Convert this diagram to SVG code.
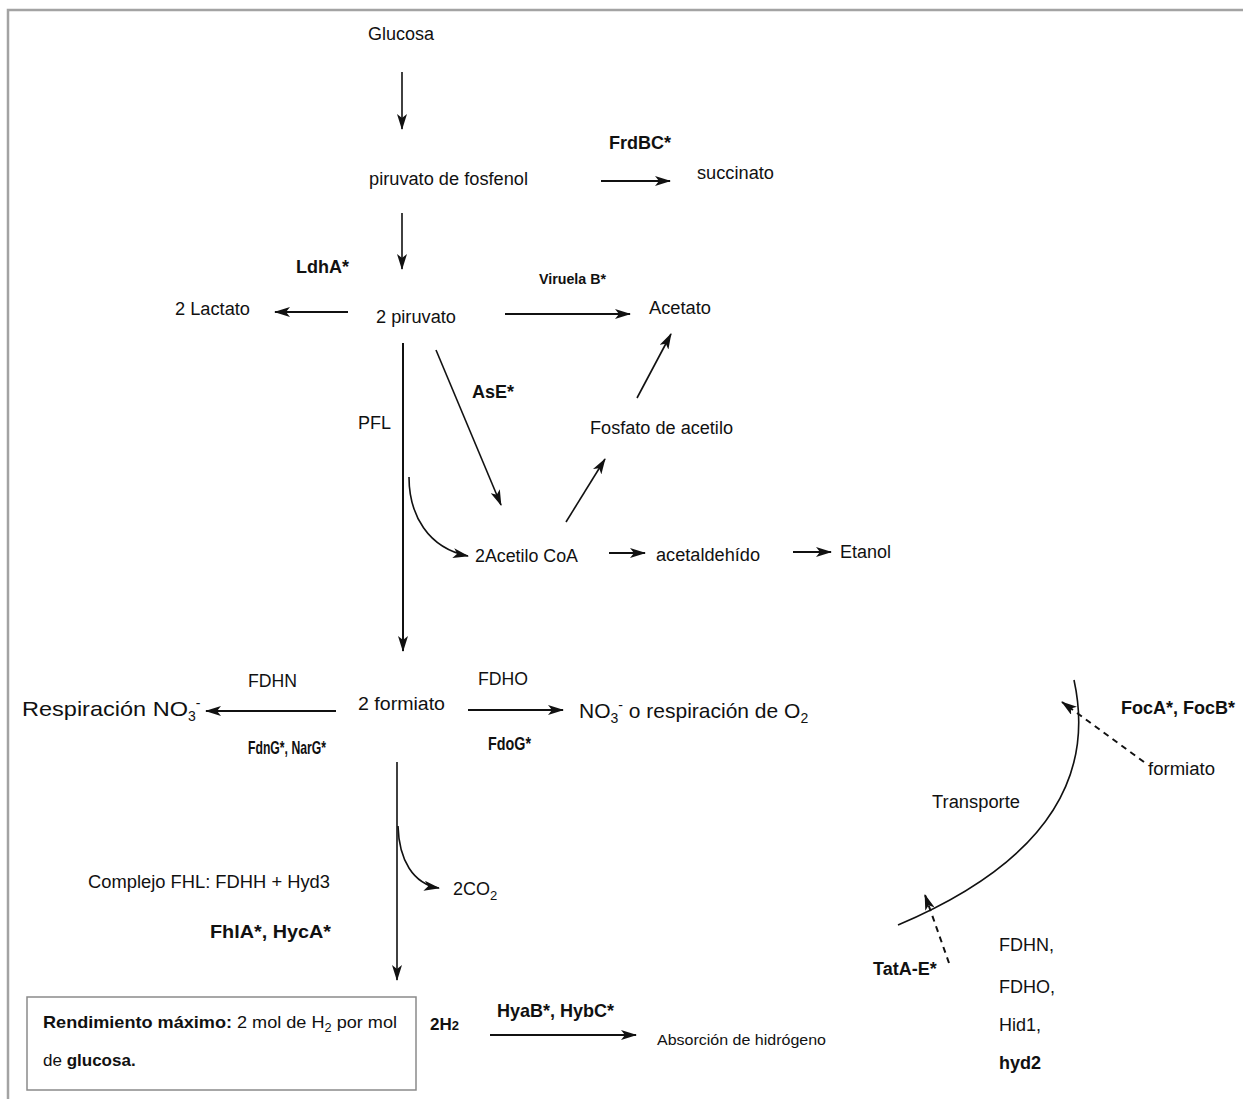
<svg xmlns="http://www.w3.org/2000/svg" width="1243" height="1099" viewBox="0 0 1243 1099">
<style>
text{font-family:"Liberation Sans",Arial,sans-serif;fill:#111;}
.t{font-size:18px;}
.b{font-size:18px;font-weight:bold;}
.c{font-size:18px;}
.cb{font-size:19px;font-weight:bold;}
.ln{stroke:#111;stroke-width:2;fill:none;}
.th{stroke:#111;stroke-width:1.6;fill:none;}
.ds{stroke:#111;stroke-width:2;fill:none;stroke-dasharray:6,5;}
</style>
<defs>
<marker id="ah" viewBox="0 0 16 10" refX="15" refY="5" markerWidth="16" markerHeight="10" markerUnits="userSpaceOnUse" orient="auto">
<path d="M0,0 L16,5 L0,10 L4,5 z" fill="#111"/>
</marker>
</defs>
<rect width="1243" height="1099" fill="#fff"/>
<path d="M8,1099 V10 H1243" stroke="#a3a3a3" stroke-width="2.5" fill="none"/>

<g id="connectors">
<line class="th" x1="402" y1="72" x2="402" y2="129" marker-end="url(#ah)"/>
<line class="th" x1="402" y1="213" x2="402" y2="269" marker-end="url(#ah)"/>
<line class="ln" x1="601" y1="181" x2="670" y2="181" marker-end="url(#ah)"/>
<line class="ln" x1="348" y1="312" x2="275" y2="312" marker-end="url(#ah)"/>
<line class="ln" x1="505" y1="314" x2="630" y2="314" marker-end="url(#ah)"/>
<line class="ln" x1="403" y1="343" x2="403" y2="651" marker-end="url(#ah)"/>
<line class="th" x1="436" y1="350" x2="501" y2="505" marker-end="url(#ah)"/>
<line class="th" x1="637" y1="398" x2="671" y2="334" marker-end="url(#ah)"/>
<line class="th" x1="566" y1="522" x2="605" y2="459" marker-end="url(#ah)"/>
<path class="th" d="M409,477 C409,515 428,548 468,556" marker-end="url(#ah)"/>
<line class="ln" x1="609" y1="553" x2="645" y2="553" marker-end="url(#ah)"/>
<line class="ln" x1="793" y1="552" x2="831" y2="552" marker-end="url(#ah)"/>
<line class="ln" x1="336" y1="711" x2="206" y2="711" marker-end="url(#ah)"/>
<line class="ln" x1="468" y1="710" x2="563" y2="710" marker-end="url(#ah)"/>
<line class="th" x1="397" y1="762" x2="397" y2="980" marker-end="url(#ah)"/>
<path class="th" d="M398,826 C399,860 413,884 439,888" marker-end="url(#ah)"/>
<line class="ln" x1="490" y1="1035" x2="636" y2="1035" marker-end="url(#ah)"/>
<path class="th" d="M898,925 Q1108,836 1074,680"/>
<line class="ds" x1="1144" y1="762" x2="1062" y2="702" marker-end="url(#ah)"/>
<line class="ds" x1="949" y1="963" x2="925" y2="895" marker-end="url(#ah)"/>
</g>

<g id="n-glucosa"><text class="t" x="368" y="40">Glucosa</text></g>
<g id="n-pep"><text class="t" x="369" y="185" textLength="159" lengthAdjust="spacingAndGlyphs">piruvato de fosfenol</text></g>
<g id="l-frdbc"><text class="b" x="609" y="149">FrdBC*</text></g>
<g id="n-succinato"><text class="t" x="697" y="179" textLength="77" lengthAdjust="spacingAndGlyphs">succinato</text></g>
<g id="l-ldha"><text class="b" x="296" y="273">LdhA*</text></g>
<g id="n-lactato"><text class="t" x="175" y="315" textLength="75" lengthAdjust="spacingAndGlyphs">2 Lactato</text></g>
<g id="n-piruvato"><text class="t" x="376" y="323" textLength="80" lengthAdjust="spacingAndGlyphs">2 piruvato</text></g>
<g id="l-viruela"><text x="539" y="284" font-size="14" font-weight="bold" textLength="67" lengthAdjust="spacingAndGlyphs">Viruela B*</text></g>
<g id="n-acetato"><text class="t" x="649" y="314" textLength="62" lengthAdjust="spacingAndGlyphs">Acetato</text></g>
<g id="l-pfl"><text class="t" x="358" y="429">PFL</text></g>
<g id="l-ase"><text class="b" x="472" y="398">AsE*</text></g>
<g id="n-fosfato"><text class="t" x="590" y="434" textLength="143" lengthAdjust="spacingAndGlyphs">Fosfato de acetilo</text></g>
<g id="n-acetilcoa"><text class="t" x="475" y="562" textLength="103" lengthAdjust="spacingAndGlyphs">2Acetilo CoA</text></g>
<g id="n-acetaldehido"><text class="t" x="656" y="561" textLength="104" lengthAdjust="spacingAndGlyphs">acetaldehído</text></g>
<g id="n-etanol"><text class="t" x="840" y="558" textLength="51" lengthAdjust="spacingAndGlyphs">Etanol</text></g>

<g id="n-formiato"><text class="c" x="358" y="710" textLength="87" lengthAdjust="spacingAndGlyphs">2 formiato</text></g>
<g id="l-fdhn"><text class="c" x="248" y="687" textLength="49" lengthAdjust="spacingAndGlyphs">FDHN</text></g>
<g id="l-fdngnarg"><text class="cb" x="248" y="754" textLength="78" lengthAdjust="spacingAndGlyphs">FdnG*, NarG*</text></g>
<g id="n-respno3"><text x="22" y="716" font-size="21"><tspan textLength="166" lengthAdjust="spacingAndGlyphs">Respiración NO</tspan><tspan font-size="14" dy="5">3</tspan><tspan font-size="14" dy="-13">-</tspan></text></g>
<g id="l-fdho"><text class="c" x="478" y="685" textLength="50" lengthAdjust="spacingAndGlyphs">FDHO</text></g>
<g id="l-fdog"><text class="cb" x="488" y="750" textLength="43" lengthAdjust="spacingAndGlyphs">FdoG*</text></g>
<g id="n-no3o2"><text x="579" y="718" font-size="21">NO<tspan font-size="14" dy="5">3</tspan><tspan font-size="14" dy="-13">-</tspan><tspan dy="8"> o respiración de O</tspan><tspan font-size="14" dy="5">2</tspan></text></g>
<g id="l-fhl"><text class="c" x="88" y="888" textLength="242" lengthAdjust="spacingAndGlyphs">Complejo FHL: FDHH + Hyd3</text></g>
<g id="l-fhla"><text class="cb" x="210" y="938" textLength="121" lengthAdjust="spacingAndGlyphs">FhlA*, HycA*</text></g>
<g id="n-co2"><text class="c" x="453" y="895">2CO<tspan font-size="13" dy="5">2</tspan></text></g>

<g id="n-box">
<rect x="27" y="997" width="389" height="93" fill="#fff" stroke="#8a8a8a" stroke-width="1.5"/>
<text x="43" y="1028" font-size="17" textLength="354" lengthAdjust="spacingAndGlyphs"><tspan font-weight="bold">Rendimiento máximo:</tspan> 2 mol de H<tspan font-size="12" dy="4">2</tspan><tspan dy="-4"> por mol</tspan></text>
<text x="43" y="1066" font-size="17">de <tspan font-weight="bold">glucosa.</tspan></text>
</g>
<g id="n-h2"><text x="430" y="1030" font-size="17" font-weight="bold">2H<tspan font-size="13">2</tspan></text></g>
<g id="l-hyab"><text class="cb" x="497" y="1017" textLength="117" lengthAdjust="spacingAndGlyphs">HyaB*, HybC*</text></g>
<g id="n-absorcion"><text x="657" y="1045" font-size="15" textLength="169" lengthAdjust="spacingAndGlyphs">Absorción de hidrógeno</text></g>

<g id="l-foc"><text class="b" x="1121" y="714">FocA*, FocB*</text></g>
<g id="n-formiato2"><text class="t" x="1148" y="775" textLength="67" lengthAdjust="spacingAndGlyphs">formiato</text></g>
<g id="l-transporte"><text class="t" x="932" y="808" textLength="88" lengthAdjust="spacingAndGlyphs">Transporte</text></g>
<g id="l-tata"><text class="b" x="873" y="975">TatA-E*</text></g>
<g id="n-proteins">
<text class="t" x="999" y="951">FDHN,</text>
<text class="t" x="999" y="993">FDHO,</text>
<text class="t" x="999" y="1031">Hid1,</text>
<text class="b" x="999" y="1069">hyd2</text>
</g>
</svg>
